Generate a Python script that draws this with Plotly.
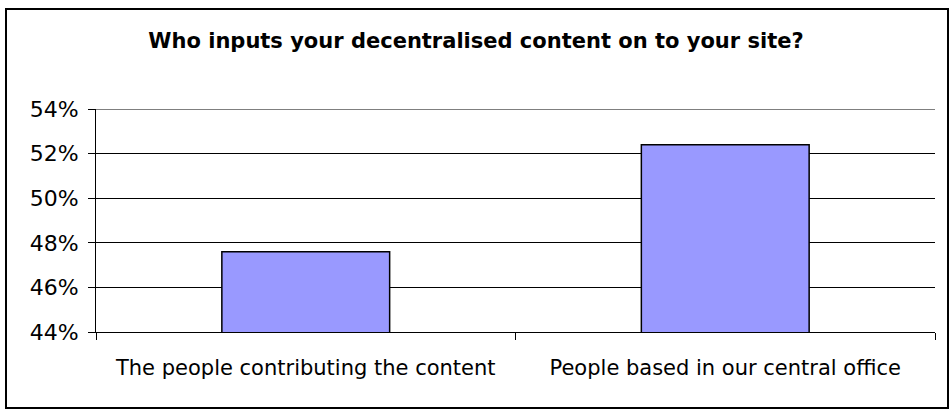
import plotly.graph_objects as go

# Survey answers and their shares
categories = ["The people contributing the content", "People based in our central office"]
shares = [0.476, 0.524]
y_ticks = [0.44, 0.46, 0.48, 0.50, 0.52, 0.54]

W, H = 952, 411
ML, MR, MT, MB = 96, 17, 109, 79
plot_w = W - ML - MR
plot_h = H - MT - MB

def px_x(p):
    return (p - ML) / plot_w

def px_y(p):
    return (H - MB - p) / plot_h

font = "DejaVu Sans, Verdana, sans-serif"

fig = go.Figure(
    go.Bar(
        x=categories,
        y=shares,
        marker=dict(color="#9999FF", line=dict(color="#000000", width=1.5)),
        width=0.4,
        hoverinfo="x+y",
    )
)

fig.update_layout(
    width=W,
    height=H,
    margin=dict(l=ML, r=MR, t=MT, b=MB),
    paper_bgcolor="white",
    plot_bgcolor="white",
    showlegend=False,
    font=dict(family=font, size=21, color="#000000"),
    title=dict(
        text="<b>Who inputs your decentralised content on to your site?</b>",
        x=0.5,
        xanchor="center",
        y=1 - 41 / H,
        yanchor="middle",
        yref="container",
        font=dict(family=font, size=21, color="#000000"),
    ),
    shapes=[
        # outer chart frame
        dict(
            type="rect",
            xref="paper",
            yref="paper",
            x0=px_x(6),
            x1=px_x(948),
            y0=px_y(408),
            y1=px_y(9),
            line=dict(color="#000000", width=2),
            fillcolor="rgba(0,0,0,0)",
            layer="below",
        ),
        # gridline at the top of the value range
        dict(
            type="line",
            xref="paper",
            yref="y",
            x0=0,
            x1=1,
            y0=y_ticks[-1],
            y1=y_ticks[-1],
            line=dict(color="#000000", width=1),
            layer="below",
        ),
    ],
)

fig.update_yaxes(
    range=[y_ticks[0], y_ticks[-1]],
    tickvals=y_ticks,
    tickformat=".0%",
    showgrid=True,
    gridcolor="#000000",
    gridwidth=1,
    showline=True,
    linecolor="#000000",
    linewidth=1,
    ticks="outside",
    ticklen=7,
    tickcolor="#000000",
    ticklabelstandoff=5,
    zeroline=False,
    tickfont=dict(size=22),
)

fig.update_xaxes(
    showline=True,
    linecolor="#000000",
    linewidth=1,
    ticks="outside",
    tickson="boundaries",
    ticklen=7,
    tickcolor="#000000",
    showgrid=False,
    tickfont=dict(size=21),
    ticklabelstandoff=17,
)

fig.write_html("out.html")
